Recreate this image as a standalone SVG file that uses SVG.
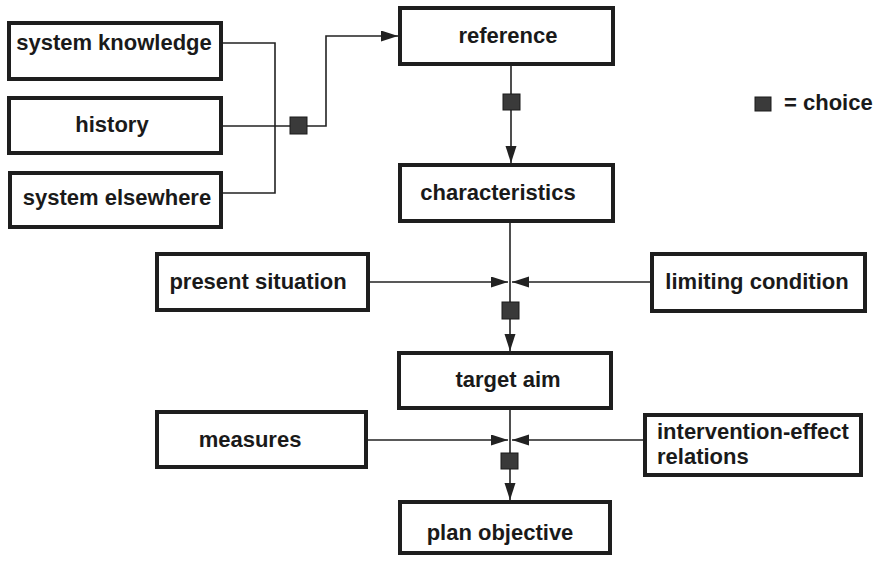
<svg xmlns="http://www.w3.org/2000/svg" width="880" height="561" viewBox="0 0 880 561">
  <style>
    .box { fill: #ffffff; stroke: #1e1e1e; stroke-width: 4; }
    .lbl { font-family: "Liberation Sans", Arial, Helvetica, sans-serif; font-weight: bold; font-size: 22px; fill: #1a1a1a; }
    .mid { text-anchor: middle; }
    .wire { fill: none; stroke: #222222; stroke-width: 1.6; }
    .choice { fill: #3a3a3a; stroke: #1a1a1a; stroke-width: 1; }
  </style>
  <defs>
    <marker id="arrow" markerUnits="userSpaceOnUse" markerWidth="18" markerHeight="12" refX="17" refY="5.5" orient="auto">
      <path d="M0,0 L17,5.5 L0,11 z" fill="#222222"/>
    </marker>
  </defs>
  <rect width="880" height="561" fill="#ffffff"/>

  <!-- connectors -->
  <g id="connectors">
    <path class="wire" d="M223,43 H275 V193 H223"/>
    <path class="wire" d="M223,126 H290"/>
    <path class="wire" d="M307,126 H326 V36 H398" marker-end="url(#arrow)"/>
    <path class="wire" d="M511,66 V163" marker-end="url(#arrow)"/>
    <path class="wire" d="M510,223 V351" marker-end="url(#arrow)"/>
    <path class="wire" d="M370,282 H508" marker-end="url(#arrow)"/>
    <path class="wire" d="M650,282 H512" marker-end="url(#arrow)"/>
    <path class="wire" d="M510,410 V500" marker-end="url(#arrow)"/>
    <path class="wire" d="M368,440 H508" marker-end="url(#arrow)"/>
    <path class="wire" d="M643,440 H512" marker-end="url(#arrow)"/>
    <!-- choice points -->
    <rect class="choice" x="290" y="117" width="17" height="17"/>
    <rect class="choice" x="503" y="94" width="17" height="16"/>
    <rect class="choice" x="502" y="302" width="17" height="17"/>
    <rect class="choice" x="501" y="453" width="17" height="16"/>
  </g>

  <g id="system-knowledge">
    <rect class="box" x="9" y="23" width="212" height="56"/>
    <text class="lbl mid" x="114" y="50">system knowledge</text>
  </g>
  <g id="history">
    <rect class="box" x="9" y="98" width="212" height="55"/>
    <text class="lbl mid" x="112" y="132">history</text>
  </g>
  <g id="system-elsewhere">
    <rect class="box" x="10" y="173" width="211" height="54"/>
    <text class="lbl mid" x="117" y="205">system elsewhere</text>
  </g>
  <g id="reference">
    <rect class="box" x="400" y="8" width="213" height="56"/>
    <text class="lbl mid" x="508" y="43">reference</text>
  </g>
  <g id="characteristics">
    <rect class="box" x="400" y="165" width="213" height="56"/>
    <text class="lbl mid" x="498" y="200">characteristics</text>
  </g>
  <g id="present-situation">
    <rect class="box" x="157" y="254" width="211" height="56"/>
    <text class="lbl mid" x="258" y="289">present situation</text>
  </g>
  <g id="limiting-condition">
    <rect class="box" x="652" y="254" width="213" height="57"/>
    <text class="lbl mid" x="757" y="289">limiting condition</text>
  </g>
  <g id="target-aim">
    <rect class="box" x="399" y="353" width="212" height="55"/>
    <text class="lbl mid" x="508" y="387">target aim</text>
  </g>
  <g id="measures">
    <rect class="box" x="157" y="412" width="209" height="55"/>
    <text class="lbl mid" x="250" y="447">measures</text>
  </g>
  <g id="intervention-effect">
    <rect class="box" x="645" y="415" width="216" height="60"/>
    <text class="lbl" x="657" y="439">intervention-effect</text>
    <text class="lbl" x="657" y="464">relations</text>
  </g>
  <g id="plan-objective">
    <rect class="box" x="400" y="502" width="210" height="51"/>
    <text class="lbl mid" x="500" y="540">plan objective</text>
  </g>

  <g id="legend">
    <rect class="choice" x="755" y="97" width="16" height="14"/>
    <text class="lbl" x="784" y="110">= choice</text>
  </g>
</svg>
